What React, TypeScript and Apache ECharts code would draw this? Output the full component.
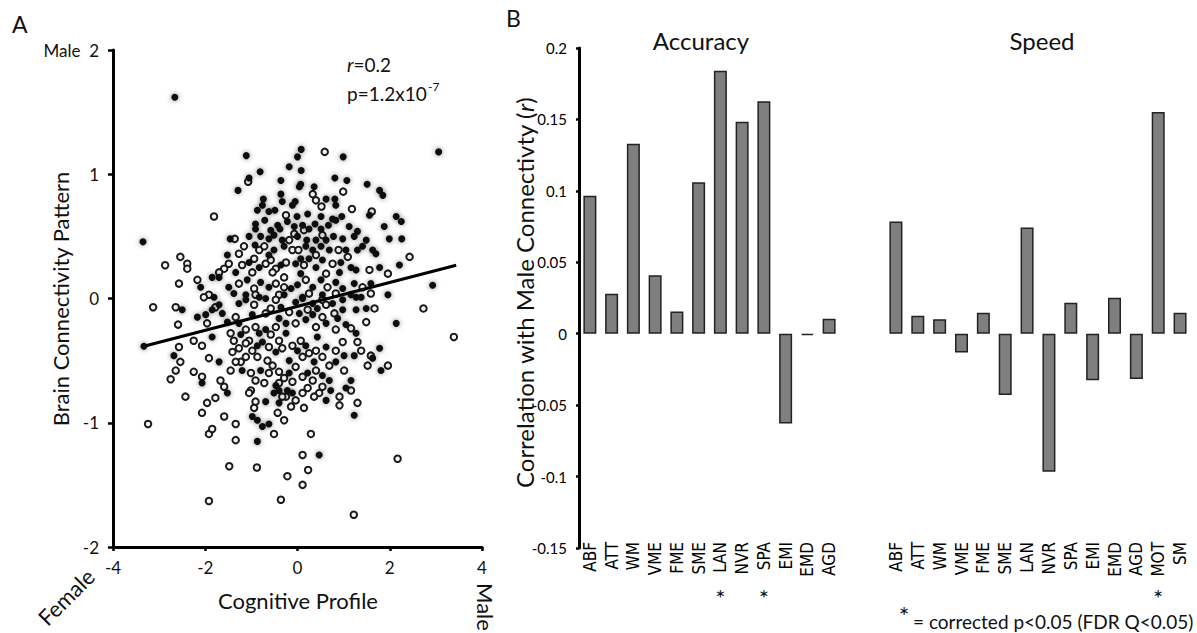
import React, { useEffect, useRef } from "react";
import * as echarts from "echarts";

// ---------- Panel B data ----------
const ACC_CATS = ["ABF", "ATT", "WM", "VME", "FME", "SME", "LAN", "NVR", "SPA", "EMI", "EMD", "AGD"];
const ACC_VALUES = [0.0966, 0.0279, 0.133, 0.041, 0.0156, 0.106, 0.184, 0.1484, 0.1627, -0.0629, -0.001, 0.0104];
const SPD_CATS = ["ABF", "ATT", "WM", "VME", "FME", "SME", "LAN", "NVR", "SPA", "EMI", "EMD", "AGD", "MOT", "SM"];
const SPD_VALUES = [0.0786, 0.0125, 0.0102, -0.0132, 0.0146, -0.0429, 0.0744, -0.0966, 0.0216, -0.0326, 0.0251, -0.0317, 0.1552, 0.0146];
const ACC_SIG = ["LAN", "SPA"];
const SPD_SIG = ["MOT"];
const B_TICKS = { min: -0.15, max: 0.2, interval: 0.05 };

// ---------- Panel A data ----------
const A_X_TICKS = { min: -4, max: 4, interval: 2 };
const A_Y_TICKS = { min: -2, max: 2, interval: 1 };
const FIT_LINE = [[-3.33, -0.384], [3.44, 0.268]];

const FILLED_POINTS = [
  [-2.66, 1.62], [3.06, 1.18], [-3.35, 0.456], [2.93, 0.107], [-3.33, -0.385],
  [-1.11, 1.15], [0.08, 1.2], [0.0, 1.14], [0.99, 1.14], [-0.81, 1.02], [-0.18, 1.06], [0.08, 1.03],
  [-1.05, 0.97], [-0.36, 0.95], [0.81, 0.97], [1.07, 0.95], [1.51, 0.92], [-1.29, 0.87], [0.07, 0.92],
  [0.04, 0.9], [0.36, 0.9], [1.78, 0.87], [1.85, 0.83], [-0.36, 0.84], [0.62, 0.8], [0.81, 0.8],
  [-0.74, 0.8], [-0.76, 0.75], [-0.33, 0.78], [-0.11, 0.75], [-0.05, 0.78], [0.83, 0.75], [1.56, 0.67],
  [-0.87, 0.71], [-0.62, 0.7], [-0.49, 0.71], [-0.01, 0.66], [0.22, 0.68], [0.51, 0.66], [0.76, 0.64],
  [0.96, 0.66], [2.14, 0.66], [2.25, 0.62], [1.88, 0.58], [-0.91, 0.6], [-0.71, 0.63], [-0.58, 0.55],
  [-0.43, 0.59], [-0.38, 0.56], [-0.22, 0.62], [-0.07, 0.58], [0.11, 0.59], [0.25, 0.56], [0.38, 0.6],
  [0.51, 0.56], [0.67, 0.59], [0.83, 0.63], [1.12, 0.58], [1.3, 0.54], [-1.46, 0.48], [-0.91, 0.56],
  [-0.8, 0.5], [-0.62, 0.48], [-0.33, 0.47], [0.0, 0.5], [0.2, 0.47], [0.4, 0.47], [0.62, 0.47],
  [0.78, 0.5], [0.98, 0.48], [1.23, 0.5], [1.49, 0.47], [1.99, 0.48], [2.26, 0.48], [-1.52, 0.35],
  [-0.92, 0.43], [-0.51, 0.39], [-0.29, 0.42], [0.18, 0.42], [0.33, 0.39], [0.51, 0.42], [0.69, 0.39],
  [1.05, 0.39], [1.41, 0.42], [1.63, 0.39], [1.7, 0.36], [-2.1, 0.09], [-1.34, 0.21], [-1.05, 0.29],
  [-0.83, 0.25], [-0.36, 0.27], [-0.04, 0.28], [0.25, 0.32], [0.4, 0.25], [0.54, 0.31], [0.94, 0.29],
  [1.16, 0.25], [1.27, 0.23], [1.78, 0.25], [2.21, 0.27], [-1.85, 0.17], [-1.7, 0.17], [-1.49, 0.09],
  [-1.09, 0.15], [-0.8, 0.13], [-0.62, 0.09], [-0.14, 0.08], [0.0, 0.11], [0.33, 0.09], [0.51, 0.15],
  [0.83, 0.13], [0.98, 0.08], [1.23, 0.12], [1.59, 0.12], [1.96, 0.03], [-1.12, 0.03], [-0.83, 0.01],
  [0.11, 0.01], [0.54, 0.03], [1.27, 0.01],
  [-2.5, -0.09], [-2.17, -0.15], [-1.99, -0.13], [-1.85, -0.09], [-1.63, -0.12], [-1.7, -0.05],
  [-1.81, 0.01], [-1.38, 0.04], [-1.27, -0.04], [-1.12, -0.01], [-0.69, 0.0], [-0.29, 0.03], [-0.04, -0.03],
  [0.11, 0.0], [0.33, -0.04], [0.76, -0.04], [0.98, -0.01], [1.16, 0.03], [1.38, 0.01], [1.49, -0.08],
  [1.27, -0.09], [2.14, -0.2], [1.78, -0.4], [1.63, -0.48], [1.81, -0.58], [1.23, -0.46], [1.01, -0.46],
  [0.83, -0.51], [1.16, -0.66], [1.05, -0.72], [1.23, -0.94], [0.69, -0.66], [0.72, -0.74], [0.47, -1.26],
  [-0.11, -0.76], [-0.4, -0.74], [-0.47, -0.7], [-0.4, -0.84], [-0.62, -1.01], [-0.76, -1.03], [-0.87, -1.15],
  [-0.87, -0.98], [-0.98, -0.95], [-2.07, -0.68], [-2.68, -0.46], [-1.85, -0.31], [-1.7, -0.51], [-1.52, -0.76],
  [-1.2, -0.58], [-0.8, -0.58], [-0.18, -0.6], [-0.22, -0.74], [-1.23, -0.29], [-0.87, -0.38], [-0.76, -0.35],
  [-0.47, -0.43], [0.0, -0.42], [0.18, -0.38], [0.36, -0.51], [0.62, -0.39], [-0.18, -0.5], [0.22, -0.6],
  [0.54, -0.62], [-1.27, -0.2], [-0.69, -0.25], [-0.25, -0.2], [0.18, -0.17], [0.62, -0.2], [1.05, -0.21],
  [-0.98, -0.13], [-0.4, -0.16], [0.04, -0.12], [0.33, -0.13], [0.98, -0.09], [-0.69, -0.83],
  [-1.52, -0.19], [-0.36, -0.07], [0.43, -0.08], [0.87, -0.16], [1.27, -0.28], [0.43, -0.31], [-0.25, -0.28],
  [-0.83, -0.28], [-0.51, -0.76], [0.62, -0.82], [0.07, 0.2], [0.91, 0.21], [-0.62, 0.35], [0.07, 0.32],
  [1.3, 0.39], [-0.51, 0.51], [-1.05, 0.5],
];

const RING_POINTS = [
  [-2.87, 0.268], [-3.13, -0.07], [2.73, -0.08], [3.39, -0.31], [-3.24, -1.01], [-1.92, -1.63],
  [-1.48, -1.35], [-0.88, -1.36], [-0.22, -1.43], [-0.36, -1.62], [0.23, -1.38], [0.11, -1.5], [1.22, -1.74],
  [0.59, 1.18], [-1.07, 0.94], [0.99, 0.86], [0.33, 0.84], [0.4, 0.79], [0.52, 0.74], [1.18, 0.72],
  [1.61, 0.7], [-1.81, 0.66], [-0.25, 0.67], [0.14, 0.55], [-1.36, 0.48], [-0.07, 0.52], [-1.27, 0.36],
  [-0.83, 0.39], [-0.72, 0.42], [-0.11, 0.39], [0.02, 0.39], [0.89, 0.39], [-2.54, 0.335], [-2.39, 0.28],
  [-2.39, 0.24], [-2.57, 0.12], [-2.17, 0.15], [-1.59, 0.24], [-1.49, 0.28], [-1.2, 0.27], [-0.94, 0.32],
  [-0.69, 0.28], [-0.58, 0.31], [-0.47, 0.24], [-0.25, 0.29], [0.14, 0.27], [0.76, 0.28], [1.56, 0.23],
  [1.96, 0.2], [2.43, 0.335], [-1.92, 0.03], [-1.27, 0.12], [-0.94, 0.08], [-0.47, 0.12], [-0.29, 0.17],
  [0.18, 0.15], [0.65, 0.09], [1.41, 0.09], [-0.4, 0.03],
  [-2.64, -0.07], [-1.96, -0.2], [-2.59, -0.21], [-0.91, 0.03], [-0.47, -0.01], [0.54, -0.01], [1.59, 0.04],
  [1.67, -0.08], [1.49, -0.19], [1.3, -0.35], [1.52, -0.54], [1.96, -0.54], [1.01, -0.58], [0.91, -0.79],
  [0.91, -0.86], [1.3, -0.84], [0.47, -0.76], [0.36, -0.79], [0.11, -0.76], [0.14, -0.88], [0.29, -1.09],
  [0.11, -1.26], [2.17, -1.29], [-0.04, -0.82], [-0.25, -0.79], [-0.29, -0.98], [-0.43, -0.92], [-0.51, -1.09],
  [-0.94, -0.88], [-1.34, -1.14], [-1.34, -1.01], [-1.59, -0.95], [-1.92, -1.09], [-1.85, -1.05], [-2.07, -0.92],
  [-1.96, -0.84], [-1.78, -0.8], [-2.43, -0.79], [-2.07, -0.63], [-2.25, -0.59], [-2.64, -0.58], [-2.75, -0.65],
  [-2.54, -0.51], [-2.57, -0.39], [-2.25, -0.34], [-2.07, -0.38], [-1.92, -0.48], [-1.67, -0.66], [-1.59, -0.71],
  [-1.45, -0.58], [-1.41, -0.43], [-1.27, -0.4], [-1.23, -0.51], [-1.01, -0.6], [-1.01, -0.74], [-0.91, -0.66],
  [-0.62, -0.6], [-0.65, -0.5], [-0.54, -0.54], [-0.4, -0.59], [-0.29, -0.64], [-0.4, -0.68], [-0.11, -0.67],
  [-1.12, -0.47], [-0.87, -0.47], [-0.98, -0.42], [-1.45, -0.28], [-1.38, -0.34], [-1.05, -0.34], [-0.62, -0.39],
  [-0.33, -0.4], [-0.4, -0.34], [-0.11, -0.38], [0.07, -0.34], [0.11, -0.47], [0.25, -0.44], [0.4, -0.42],
  [0.54, -0.47], [0.69, -0.54], [0.83, -0.42], [-0.04, -0.55], [0.11, -0.63], [0.33, -0.66], [-1.12, -0.25],
  [-0.91, -0.23], [-0.47, -0.23], [-0.04, -0.2], [0.4, -0.23], [0.83, -0.25], [-1.34, -0.15], [-0.69, -0.12],
  [-0.18, -0.11], [0.54, -0.15], [0.8, -0.12], [-1.05, -0.76], [-0.91, -0.83], [0.4, -0.58], [0.22, -0.72],
  [-1.78, -0.07], [-0.94, -0.05], [-0.58, -0.08], [0.22, -0.09], [0.62, -0.05], [1.16, -0.24], [1.38, -0.42],
  [0.98, -0.35], [-0.58, -0.29], [-1.12, -0.36], [-1.34, -0.51], [-0.72, -0.68], [-0.33, -0.79], [-0.14, -0.87],
  [0.54, -0.71], [1.16, -0.74], [1.59, -0.46], [-0.54, 0.21], [0.62, 0.2], [-0.29, 0.09], [0.25, 0.04],
  [0.83, 0.04], [0.4, 0.35], [1.09, 0.335], [-0.18, 0.47], [0.54, 0.51], [-1.16, 0.42], [-0.98, 0.21],
  [-1.7, 0.21], [-2.03, 0.01],
];

const FONT = "Lato, 'Open Sans', sans-serif";
const NARROW = "'Liberation Sans Narrow', 'DejaVu Sans Condensed', 'Roboto', sans-serif";

// layout (pixels)
const GA = { left: 113, top: 50, width: 369, height: 497 };
const GACC = { left: 579, top: 48, width: 261, height: 500 };
const GSPD = { left: 885, top: 48, width: 306, height: 500 };

export default function App() {
  const ref = useRef<HTMLDivElement>(null);
  useEffect(() => {
    if (!ref.current) return;
    const chart = echarts.init(ref.current, undefined, { renderer: "svg" });
    const axisBlack = { onZero: false, lineStyle: { color: "#000", width: 3 } };
    const catAxis = (gi: number, data: string[]) => ({
      type: "category",
      gridIndex: gi,
      data,
      position: "bottom",
      boundaryGap: true,
      axisLine: { show: false, onZero: false },
      axisTick: { show: false },
      splitLine: { show: false },
      axisLabel: { rotate: 90, interval: 0, margin: -6, fontSize: 17, color: "#000", fontFamily: NARROW },
    });
    const barSeries = (i: number, data: number[]) => ({
      type: "bar",
      xAxisIndex: i,
      yAxisIndex: i,
      data,
      barWidth: 13,
      itemStyle: { color: "#7f7f7f", borderColor: "#222", borderWidth: 1.5 },
    });
    const option: any = {
      animation: false,
      backgroundColor: "#fff",
      textStyle: { fontFamily: FONT },
      grid: [{ ...GA }, { ...GACC }, { ...GSPD }],
      xAxis: [
        {
          type: "value",
          gridIndex: 0,
          ...A_X_TICKS,
          axisLine: axisBlack,
          axisTick: { show: true, length: 4, lineStyle: { color: "#000", width: 2.5 } },
          splitLine: { show: false },
          axisLabel: { fontSize: 17, color: "#111", margin: 12, fontFamily: FONT },
        },
        catAxis(1, ACC_CATS),
        catAxis(2, SPD_CATS),
      ],
      yAxis: [
        {
          type: "value",
          gridIndex: 0,
          ...A_Y_TICKS,
          axisLine: { show: true, ...axisBlack },
          axisTick: { show: true, length: 5, lineStyle: { color: "#000", width: 2.5 } },
          splitLine: { show: false },
          axisLabel: {
            fontSize: 17,
            color: "#111",
            margin: 14,
            fontFamily: FONT,
            formatter: (v: number) => (v === 2 ? "Male  2" : String(v)),
          },
        },
        {
          type: "value",
          gridIndex: 1,
          ...B_TICKS,
          axisLine: { show: true, ...axisBlack },
          axisTick: { show: true, length: 3, lineStyle: { color: "#000", width: 2.5 } },
          splitLine: { show: false },
          axisLabel: { fontSize: 15, color: "#000", margin: 12, fontFamily: FONT },
        },
        {
          type: "value",
          gridIndex: 2,
          ...B_TICKS,
          show: false,
          splitLine: { show: false },
        },
      ],
      series: [
        {
          type: "scatter",
          xAxisIndex: 0,
          yAxisIndex: 0,
          data: RING_POINTS,
          symbolSize: 6.5,
          itemStyle: { color: "#f4f4f4", borderColor: "#1a1a1a", borderWidth: 2, opacity: 1 },
          z: 2,
        },
        {
          type: "scatter",
          xAxisIndex: 0,
          yAxisIndex: 0,
          data: FILLED_POINTS,
          symbolSize: 7,
          itemStyle: { color: "#111", shadowBlur: 5, shadowColor: "rgba(0,0,0,0.5)", opacity: 1 },
          z: 3,
        },
        {
          type: "line",
          xAxisIndex: 0,
          yAxisIndex: 0,
          data: FIT_LINE,
          symbol: "none",
          lineStyle: { color: "#000", width: 3 },
          z: 4,
        },
        barSeries(1, ACC_VALUES),
        barSeries(2, SPD_VALUES),
      ],
    };
    chart.setOption(option);

    const yStar = 597;
    const starStyle = { text: "*", fontSize: 24, fill: "#111", align: "center", verticalAlign: "middle", fontFamily: FONT };
    const stars: any[] = [];
    ACC_SIG.forEach((c) => {
      const x = chart.convertToPixel({ xAxisIndex: 1 }, c) as number;
      stars.push({ type: "text", x, y: yStar, style: { ...starStyle } });
    });
    SPD_SIG.forEach((c) => {
      const x = chart.convertToPixel({ xAxisIndex: 2 }, c) as number;
      stars.push({ type: "text", x, y: yStar, style: { ...starStyle } });
    });

    const t = (text: string, x: number, y: number, fontSize: number, extra: any = {}, rotation = 0) => ({
      type: "text",
      x,
      y,
      rotation,
      style: { text, fontSize, fill: "#111", fontFamily: FONT, align: "center", verticalAlign: "middle", ...extra },
    });

    chart.setOption({
      graphic: [
        t("A", 12, 12, 23, { align: "left", verticalAlign: "top" }),
        t("B", 506, 6, 23, { align: "left", verticalAlign: "top" }),
        t("Accuracy", 701, 40, 24),
        t("Speed", 1042, 40, 24),
        t("{i|r}=0.2", 347, 64, 19, { align: "left", rich: { i: { fontStyle: "italic", fontSize: 19, fontFamily: FONT, fill: "#111" } } }),
        t("p=1.2x10", 347, 93, 19, { align: "left" }),
        t("-7", 428, 86, 12, { align: "left" }),
        t("Brain Connectivity Pattern", 60, 299, 22, {}, Math.PI / 2),
        t("Cognitive Profile", 298, 600, 22),
        t("Female", 66, 597, 22, {}, Math.PI / 4),
        t("Male", 485, 607, 22, {}, -Math.PI / 2),
        t("Correlation with Male Connectivty ({i|r})", 524, 293, 24, {
          rich: { i: { fontStyle: "italic", fontSize: 24, fontFamily: FONT, fill: "#111" } },
        }, Math.PI / 2),
        t("*", 904, 616, 25),
        t("= corrected p<0.05 (FDR Q<0.05)", 913, 621, 19, { align: "left" }),
        ...stars,
      ],
    });
    return () => chart.dispose();
  }, []);
  return <div ref={ref} style={{ position: "fixed", left: 0, top: 0, width: 1197, height: 633, background: "#fff" }} />;
}
